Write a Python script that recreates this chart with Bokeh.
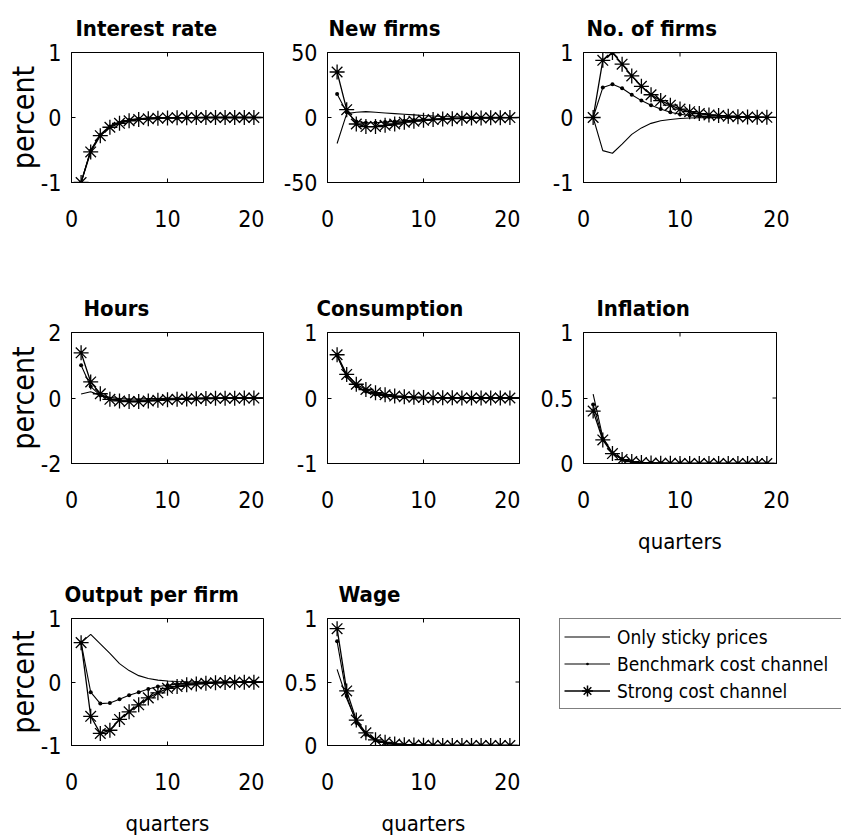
import math
from bokeh.plotting import figure
from bokeh.layouts import column, row
from bokeh.models import FixedTicker, Legend, LegendItem, Range1d
from bokeh.embed import file_html
from bokeh.resources import INLINE

# ---------------- data ----------------
t = list(range(1, 21))
n_mark = 19  # markers drawn on quarters 1..19

titles = ["Interest rate", "New firms", "No. of firms", "Hours", "Consumption",
          "Inflation", "Output per firm", "Wage"]
series_names = ["Only sticky prices", "Benchmark cost channel", "Strong cost channel"]
x_ticks = [0, 10, 20]

ir_sticky = [-1.00, -0.50, -0.26, -0.13, -0.07, -0.04, -0.02, -0.01, -0.005, -0.003, -0.002, -0.001, 0, 0, 0, 0, 0, 0, 0, 0]
ir_bench = [-1.00, -0.51, -0.27, -0.14, -0.08, -0.04, -0.02, -0.01, -0.006, -0.003, -0.002, -0.001, 0, 0, 0, 0, 0, 0, 0, 0]
ir_strong = [-1.00, -0.53, -0.28, -0.15, -0.09, -0.05, -0.03, -0.02, -0.01, -0.006, -0.004, -0.002, -0.001, 0, 0, 0, 0, 0, 0, 0]

nf_sticky = [-20, 3, 4, 4.5, 4, 3.5, 3, 2.5, 2, 1.5, 1.1, 0.8, 0.6, 0.4, 0.3, 0.2, 0.15, 0.1, 0.05, 0]
nf_bench = [18, 4, -3, -4, -4, -3.5, -3, -2.5, -2, -1.5, -1.1, -0.8, -0.6, -0.4, -0.3, -0.2, -0.15, -0.1, -0.05, 0]
nf_strong = [35, 6, -5, -7, -7, -6, -5, -3.6, -2.8, -2.2, -1.6, -1.2, -0.9, -0.6, -0.4, -0.3, -0.2, -0.1, -0.05, 0]

nof_sticky = [0, -0.51, -0.55, -0.41, -0.26, -0.16, -0.09, -0.05, -0.03, -0.015, -0.008, -0.004, -0.002, -0.001, 0, 0, 0, 0, 0, 0]
nof_bench = [0, 0.46, 0.51, 0.45, 0.35, 0.26, 0.19, 0.13, 0.08, 0.05, 0.03, 0.02, 0.013, 0.008, 0.005, 0.003, 0.002, 0.001, 0, 0]
nof_strong = [0, 0.88, 1.0, 0.82, 0.64, 0.48, 0.35, 0.26, 0.19, 0.13, 0.09, 0.06, 0.04, 0.03, 0.02, 0.013, 0.008, 0.005, 0.003, 0.002]

h_sticky = [0.12, 0.19, 0.08, 0.02, -0.02, -0.03, -0.03, -0.02, -0.015, -0.01, -0.007, -0.004, -0.002, -0.001, 0, 0, 0, 0, 0, 0]
h_bench = [1.0, 0.35, 0.08, -0.03, -0.06, -0.07, -0.07, -0.06, -0.05, -0.04, -0.03, -0.02, -0.015, -0.01, -0.007, -0.005, -0.003, -0.002, -0.001, 0]
h_strong = [1.38, 0.49, 0.13, -0.04, -0.09, -0.11, -0.11, -0.09, -0.07, -0.05, -0.04, -0.03, -0.02, -0.015, -0.01, -0.007, -0.005, -0.003, -0.002, -0.001]

c_sticky = [0.64, 0.32, 0.17, 0.09, 0.05, 0.03, 0.015, 0.008, 0.004, 0.002, 0.001, 0, 0, 0, 0, 0, 0, 0, 0, 0]
c_bench = [0.65, 0.33, 0.18, 0.10, 0.055, 0.03, 0.017, 0.01, 0.005, 0.003, 0.002, 0.001, 0, 0, 0, 0, 0, 0, 0, 0]
c_strong = [0.66, 0.36, 0.21, 0.13, 0.08, 0.05, 0.03, 0.02, 0.012, 0.008, 0.005, 0.003, 0.002, 0.001, 0, 0, 0, 0, 0, 0]

pi_sticky = [0.53, 0.20, 0.08, 0.03, 0.012, 0.005, 0.002, 0.001, 0, 0, 0, 0, 0, 0, 0, 0, 0, 0, 0, 0]
pi_bench = [0.45, 0.19, 0.08, 0.035, 0.015, 0.006, 0.003, 0.001, 0, 0, 0, 0, 0, 0, 0, 0, 0, 0, 0, 0]
pi_strong = [0.40, 0.18, 0.076, 0.03, 0.015, 0.007, 0.003, 0.002, 0.001, 0, 0, 0, 0, 0, 0, 0, 0, 0, 0, 0]

y_sticky = [0.62, 0.75, 0.60, 0.45, 0.29, 0.18, 0.10, 0.056, 0.03, 0.015, 0.007, 0.003, 0.001, 0, 0, 0, 0, 0, 0, 0]
y_bench = [0.62, -0.16, -0.34, -0.33, -0.27, -0.21, -0.16, -0.11, -0.07, -0.05, -0.03, -0.02, -0.013, -0.008, -0.005, -0.003, -0.002, -0.001, 0, 0]
y_strong = [0.62, -0.54, -0.81, -0.76, -0.59, -0.47, -0.36, -0.25, -0.17, -0.10, -0.07, -0.045, -0.03, -0.02, -0.013, -0.008, -0.005, -0.003, -0.002, -0.001]

w_sticky = [0.60, 0.37, 0.19, 0.09, 0.04, 0.02, 0.01, 0.005, 0.002, 0.001, 0, 0, 0, 0, 0, 0, 0, 0, 0, 0]
w_bench = [0.82, 0.39, 0.18, 0.085, 0.04, 0.02, 0.01, 0.005, 0.002, 0.001, 0, 0, 0, 0, 0, 0, 0, 0, 0, 0]
w_strong = [0.92, 0.43, 0.20, 0.10, 0.045, 0.025, 0.012, 0.006, 0.003, 0.002, 0.001, 0, 0, 0, 0, 0, 0, 0, 0, 0]

y_ranges = [(-1, 1), (-50, 50), (-1, 1), (-2, 2), (-1, 1), (0, 1), (-1, 1), (0, 1)]
y_ticks = [[-1, 0, 1], [-50, 0, 50], [-1, 0, 1], [-2, 0, 2], [-1, 0, 1], [0, 0.5, 1], [-1, 0, 1], [0, 0.5, 1]]
y_labels = [["-1", "0", "1"], ["-50", "0", "50"], ["-1", "0", "1"], ["-2", "0", "2"], ["-1", "0", "1"],
            ["0", "0.5", "1"], ["-1", "0", "1"], ["0", "0.5", "1"]]
data = [(ir_sticky, ir_bench, ir_strong), (nf_sticky, nf_bench, nf_strong), (nof_sticky, nof_bench, nof_strong),
        (h_sticky, h_bench, h_strong), (c_sticky, c_bench, c_strong), (pi_sticky, pi_bench, pi_strong),
        (y_sticky, y_bench, y_strong), (w_sticky, w_bench, w_strong)]

# ---------------- styling ----------------
FONT = "DejaVu Sans Condensed"
TICK_FS = "23px"
XLABEL_FS = "22px"
YLABEL_FS = "30px"
TITLE_FS = "22px"
title_offsets = [4, 1, 3, 12, -11, 13, -7, 11]

col_width = [264, 256, 321]
col_left = [71, 63, 63]
col_frame = [192, 192, 193]
row_height = [280, 280, 280]
row_top = [52, 52, 53]
row_frame = [130, 131, 132]


def make_panel(i):
    r, c = divmod(i, 3)
    ymin, ymax = y_ranges[i]
    p = figure(width=col_width[c], height=row_height[r],
               x_range=Range1d(0, 20), y_range=Range1d(ymin, ymax),
               output_backend="svg", toolbar_location=None,
               min_border_left=col_left[c],
               min_border_right=col_width[c] - col_left[c] - col_frame[c],
               min_border_top=row_top[r],
               min_border_bottom=row_height[r] - row_top[r] - row_frame[r])
    p.grid.visible = False
    p.outline_line_color = "black"
    p.outline_line_width = 1
    p.background_fill_color = "white"
    p.border_fill_color = "white"

    for ax in (p.xaxis[0], p.yaxis[0]):
        ax.major_tick_in = 4
        ax.major_tick_out = 0
        ax.minor_tick_line_color = None
        ax.major_label_text_font = FONT
        ax.major_label_text_font_size = TICK_FS
        ax.major_label_text_color = "black"
        ax.axis_line_color = "black"
        ax.axis_label_text_font = FONT
        ax.axis_label_text_font_style = "normal"
        ax.axis_label_text_color = "black"
    p.xaxis.ticker = FixedTicker(ticks=x_ticks)
    p.xaxis.major_label_overrides = {v: str(v) for v in x_ticks}
    p.xaxis.major_label_standoff = 27
    p.xaxis.axis_label_text_font_size = XLABEL_FS
    p.yaxis.ticker = FixedTicker(ticks=y_ticks[i])
    p.yaxis.major_label_overrides = dict(zip(y_ticks[i], y_labels[i]))
    p.yaxis.major_label_standoff = 10
    p.yaxis.axis_label_text_font_size = YLABEL_FS
    if c == 0:
        p.yaxis.axis_label = "percent"
        p.yaxis.axis_label_standoff = -3
    if i in (5, 6, 7):
        p.xaxis.axis_label = "quarters"
        p.xaxis.axis_label_standoff = 18

    # inward ticks on the top and right edges of the box
    p.scatter(x=x_ticks, y=[ymax] * len(x_ticks), marker="dash", angle=math.pi / 2,
              size=8, line_color="black", line_width=1)
    p.scatter(x=[20] * len(y_ticks[i]), y=y_ticks[i], marker="dash",
              size=8, line_color="black", line_width=1)

    p.title.text = titles[i]
    p.title.text_font = FONT
    p.title.text_font_size = TITLE_FS
    p.title.text_font_style = "bold"
    p.title.text_color = "black"
    p.title.align = "left"
    p.title.offset = title_offsets[i]
    p.title.standoff = 23

    sticky, bench, strong = data[i]
    p.line(t, sticky, line_color="black", line_width=1.1)
    p.line(t, bench, line_color="black", line_width=1.1)
    p.scatter(t[:n_mark], bench[:n_mark], marker="dot", size=16, fill_color="black", line_color="black")
    p.line(t, strong, line_color="black", line_width=1.3)
    p.scatter(t[:n_mark], strong[:n_mark], marker="asterisk", size=15, line_color="black", line_width=1.3)
    return p


panels = [make_panel(i) for i in range(8)]

# legend cell (its renderers lie outside the visible range; only the legend shows)
lg = figure(width=col_width[2], height=row_height[2], output_backend="svg", toolbar_location=None,
            x_range=Range1d(100, 101), y_range=Range1d(100, 101),
            x_axis_location=None, y_axis_location=None,
            min_border_left=39, min_border_top=58, min_border_right=0, min_border_bottom=0)
lg.grid.visible = False
lg.outline_line_color = None
r1 = lg.line(t, w_sticky, line_color="black", line_width=1.2)
r2 = lg.line(t, w_bench, line_color="black", line_width=1.2)
r2m = lg.scatter(t, w_bench, marker="dot", size=16, fill_color="black", line_color="black")
r3 = lg.line(t, w_strong, line_color="black", line_width=1.3)
r3m = lg.scatter(t, w_strong, marker="asterisk", size=15, line_color="black", line_width=1.5)
legend = Legend(items=[LegendItem(label=series_names[0], renderers=[r1]),
                       LegendItem(label=series_names[1], renderers=[r2, r2m]),
                       LegendItem(label=series_names[2], renderers=[r3, r3m])],
                location="top_left", margin=0, padding=4, spacing=0,
                glyph_width=46, glyph_height=27, label_height=20, label_width=230,
                label_standoff=7, label_text_font=FONT, label_text_font_size="19px",
                label_text_color="black",
                border_line_color="black", border_line_width=1,
                background_fill_alpha=1.0)
lg.add_layout(legend, "center")

layout = column(row(*panels[0:3], spacing=0), row(*panels[3:6], spacing=0),
                row(panels[6], panels[7], lg, spacing=0), spacing=0)

open("out.html", "w").write(file_html(layout, INLINE))
